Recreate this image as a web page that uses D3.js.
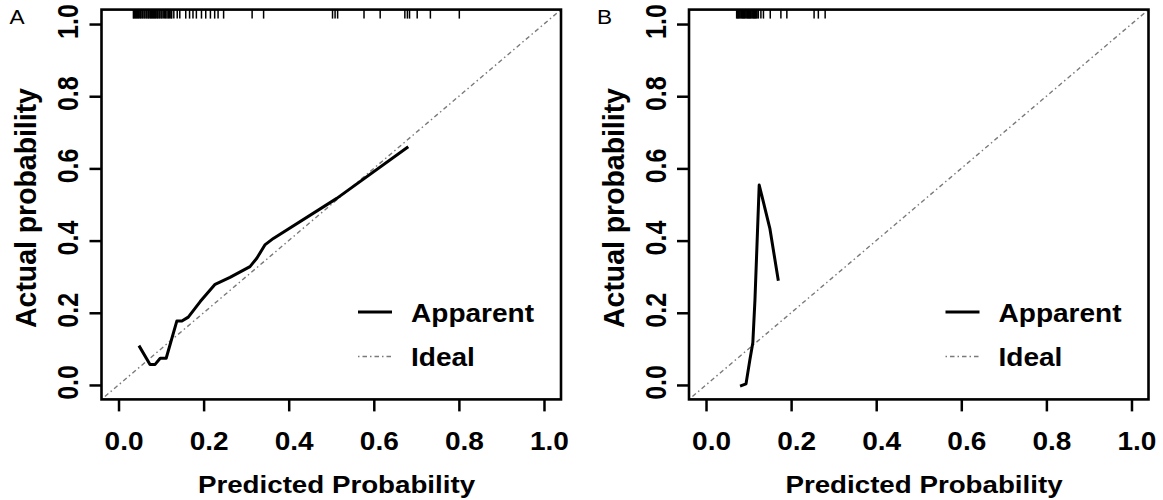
<!DOCTYPE html>
<html>
<head>
<meta charset="utf-8">
<script src="https://cdn.jsdelivr.net/npm/d3@7/dist/d3.min.js"></script>
<style>
  html, body { margin: 0; padding: 0; background: #fff; }
  svg { display: block; }
  text { font-family: "Liberation Sans", Arial, Helvetica, sans-serif; fill: #000; }
</style>
</head>
<body>
<div id="chart"></div>
<script>
// ---------------- data ----------------
const panelLabels = ["A", "B"];
const tickValues = [0, 0.2, 0.4, 0.6, 0.8, 1.0];
const tickLabels = ["0.0", "0.2", "0.4", "0.6", "0.8", "1.0"];
const xTitle = "Predicted Probability";
const yTitle = "Actual probability";
const legendLabels = ["Apparent", "Ideal"];

// Apparent calibration curve, panel A
const apparentA_x = [0.048, 0.074, 0.086, 0.098, 0.112, 0.137, 0.149, 0.164, 0.192, 0.227, 0.262, 0.309, 0.325, 0.344, 0.364, 0.513, 0.681];
const apparentA_y = [0.109, 0.057, 0.057, 0.074, 0.074, 0.177, 0.177, 0.188, 0.231, 0.279, 0.298, 0.328, 0.351, 0.388, 0.406, 0.517, 0.660];

// Apparent calibration curve, panel B
const apparentB_x = [0.080, 0.094, 0.103, 0.110, 0.115, 0.125, 0.150, 0.170];
const apparentB_y = [-0.003, 0.003, 0.069, 0.117, 0.235, 0.554, 0.434, 0.289];

// Rug (distribution of predicted probabilities), panel A
const rugA = [0.035, 0.037, 0.040, 0.042, 0.045, 0.047, 0.050, 0.052, 0.055, 0.057, 0.060, 0.062,
  0.065, 0.067, 0.070, 0.072, 0.075, 0.077, 0.080, 0.082, 0.085, 0.087, 0.090, 0.092, 0.095, 0.097,
  0.100, 0.102, 0.105, 0.108, 0.111, 0.114, 0.117, 0.120, 0.123, 0.125,
  0.130, 0.138, 0.144, 0.158, 0.167, 0.175, 0.183, 0.195, 0.205, 0.216, 0.226, 0.234, 0.247,
  0.314, 0.341, 0.503, 0.509, 0.515, 0.577, 0.615, 0.673, 0.679, 0.684, 0.702, 0.733, 0.801];

// Rug, panel B
const rugB = [0.072, 0.074, 0.076, 0.078, 0.080, 0.082, 0.084, 0.086, 0.088, 0.090, 0.092, 0.094,
  0.096, 0.098, 0.100, 0.102, 0.104, 0.106, 0.108, 0.110, 0.112, 0.114, 0.116, 0.118, 0.120, 0.123,
  0.129, 0.135, 0.151, 0.176, 0.190, 0.254, 0.264, 0.280];

const idealX = [-0.04, 1.04];
const idealY = [-0.04, 1.04];

// ---------------- layout ----------------
const W = 1163, H = 500;
const FONT = '"Liberation Sans", Arial, Helvetica, sans-serif';

const svg = d3.select("#chart").append("svg")
  .attr("width", W).attr("height", H)
  .attr("viewBox", `0 0 ${W} ${H}`);

const panels = [
  { label: panelLabels[0], left: 101.5, ax: apparentA_x, ay: apparentA_y, rug: rugA },
  { label: panelLabels[1], left: 689,   ax: apparentB_x, ay: apparentB_y, rug: rugB }
];
const boxW = 459.5, plotTop = 9.6, plotBottom = 399.4;

panels.forEach(p => {
  const x = d3.scaleLinear().domain([-0.04, 1.04]).range([p.left, p.left + boxW]);
  const y = d3.scaleLinear().domain([-0.04, 1.04]).range([plotBottom, plotTop]);
  const g = svg.append("g");

  const clipId = "clip" + p.label;
  svg.append("defs").append("clipPath").attr("id", clipId)
    .append("rect").attr("x", p.left).attr("y", plotTop).attr("width", boxW).attr("height", plotBottom - plotTop);

  // ideal line
  g.append("line")
    .attr("clip-path", `url(#${clipId})`)
    .attr("x1", x(idealX[0])).attr("y1", y(idealY[0]))
    .attr("x2", x(idealX[1])).attr("y2", y(idealY[1]))
    .attr("stroke", "#7a7a7a").attr("stroke-width", 1.4)
    .attr("stroke-dasharray", "1.5,3,4.5,3");

  // apparent curve
  const pts = p.ax.map((v, i) => [v, p.ay[i]]);
  g.append("path")
    .attr("d", d3.line().x(d => x(d[0])).y(d => y(d[1]))(pts))
    .attr("fill", "none").attr("stroke", "#000").attr("stroke-width", 3)
    .attr("stroke-linejoin", "round").attr("stroke-linecap", "butt");

  // rug at top
  g.selectAll(".rug").data(p.rug).enter().append("line")
    .attr("x1", d => x(d)).attr("x2", d => x(d))
    .attr("y1", plotTop).attr("y2", plotTop + 9)
    .attr("stroke", "#000").attr("stroke-width", 1.5);

  // x axis
  const xAxis = d3.axisBottom(x).tickValues(tickValues)
    .tickFormat((d, i) => tickLabels[i]).tickSize(12).tickPadding(0);
  const gx = g.append("g").attr("transform", `translate(0,${plotBottom})`).call(xAxis);
  gx.select(".domain").remove();
  gx.selectAll(".tick line").attr("stroke", "#000").attr("stroke-width", 2.5);
  gx.selectAll(".tick text")
    .attr("y", null).attr("dy", null)
    .attr("transform", `translate(5,50.5) scale(1.12,1)`)
    .attr("text-anchor", "middle")
    .style("font-family", FONT).style("font-size", "25px").style("font-weight", "bold");

  // y axis
  const yAxis = d3.axisLeft(y).tickValues(tickValues)
    .tickFormat((d, i) => tickLabels[i]).tickSize(12).tickPadding(0);
  const gy = g.append("g").attr("transform", `translate(${p.left},0)`).call(yAxis);
  gy.select(".domain").remove();
  gy.selectAll(".tick line").attr("stroke", "#000").attr("stroke-width", 2.5);
  gy.selectAll(".tick text")
    .attr("x", null).attr("dy", null)
    .attr("transform", `translate(-23.5,-3) scale(1.2,1) rotate(-90)`)
    .attr("text-anchor", "middle")
    .style("font-family", FONT).style("font-size", "25px").style("font-weight", "bold");

  // box
  g.append("rect")
    .attr("x", p.left).attr("y", plotTop).attr("width", boxW).attr("height", plotBottom - plotTop)
    .attr("fill", "none").attr("stroke", "#000").attr("stroke-width", 2.6);

  // axis titles
  g.append("text")
    .attr("transform", `translate(${p.left + 235},493) scale(1.19,1)`)
    .attr("text-anchor", "middle")
    .style("font-size", "23.3px").style("font-weight", "bold")
    .text(xTitle);
  g.append("text")
    .attr("transform", `translate(${p.left - 65.5},208) scale(1.05,1) rotate(-90)`)
    .attr("text-anchor", "middle")
    .style("font-size", "28.4px").style("font-weight", "bold")
    .text(yTitle);

  // panel label
  g.append("text")
    .attr("transform", `translate(${p.left - 92},24) scale(1.16,1)`)
    .style("font-size", "19.5px")
    .text(p.label);

  // legend
  const lx = p.left + 256.5;
  g.append("line").attr("x1", lx).attr("x2", lx + 34).attr("y1", 312).attr("y2", 312)
    .attr("stroke", "#000").attr("stroke-width", 3);
  g.append("line").attr("x1", lx).attr("x2", lx + 34).attr("y1", 356.5).attr("y2", 356.5)
    .attr("stroke", "#7a7a7a").attr("stroke-width", 1.4)
    .attr("stroke-dasharray", "1.5,3,4.5,3");
  g.append("text")
    .attr("transform", `translate(${lx + 53},321.5) scale(1.1,1)`)
    .style("font-size", "25.5px").style("font-weight", "bold")
    .text(legendLabels[0]);
  g.append("text")
    .attr("transform", `translate(${lx + 53},366) scale(1.1,1)`)
    .style("font-size", "25.5px").style("font-weight", "bold")
    .text(legendLabels[1]);
});
</script>
</body>
</html>
